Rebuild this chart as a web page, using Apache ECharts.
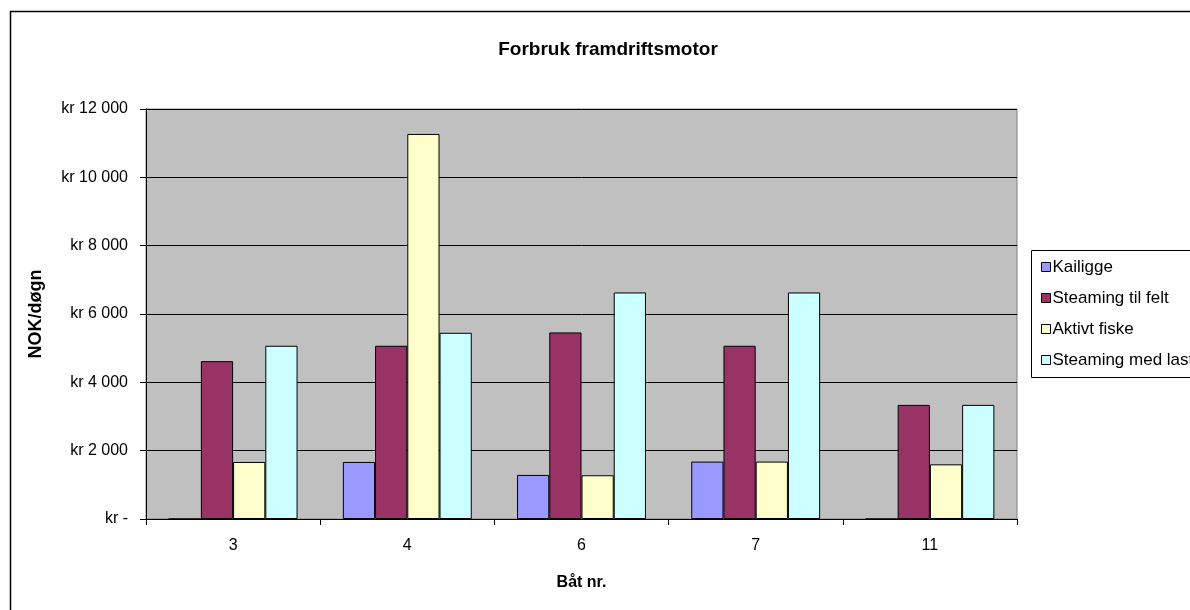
<!DOCTYPE html>
<html>
<head>
<meta charset="utf-8">
<script src="https://cdn.jsdelivr.net/npm/echarts@6/dist/echarts.min.js"></script>
<style>
html,body{margin:0;padding:0;background:#fff;}
#chart{width:1190px;height:610px;}
</style>
</head>
<body>
<div id="chart"></div>
<script>
const categories = ['3', '4', '6', '7', '11'];
const seriesNames = ['Kailigge', 'Steaming til felt', 'Aktivt fiske', 'Steaming med last'];
const kailigge = [0, 1670, 1290, 1680, 0];
const steamingTilFelt = [4620, 5070, 5460, 5070, 3340];
const aktivtFiske = [1670, 11270, 1280, 1680, 1600];
const steamingMedLast = [5070, 5450, 6630, 6630, 3340];
const yTicks = [0, 2000, 4000, 6000, 8000, 10000, 12000];
const yTickLabels = ['kr -', 'kr 2 000', 'kr 4 000', 'kr 6 000', 'kr 8 000', 'kr 10 000', 'kr 12 000'];
const colors = ['#9999FF', '#993366', '#FFFFCC', '#CCFFFF'];

const seriesData = [kailigge, steamingTilFelt, aktivtFiske, steamingMedLast];
const font = 'Liberation Sans, Arial, sans-serif';

const chart = echarts.init(document.getElementById('chart'));
chart.setOption({
  animation: false,
  textStyle: {fontFamily: font},
  title: {
    text: 'Forbruk framdriftsmotor',
    left: 603,
    textAlign: 'center',
    top: 35,
    textStyle: {fontFamily: font, fontSize: 19, fontWeight: 'bold', color: '#000'}
  },
  graphic: [
    {type: 'rect', left: 8, top: 9, shape: {width: 1250, height: 700}, style: {fill: 'none', stroke: '#000', lineWidth: 1.5}, z: -10},
    {type: 'rect', left: 1031, top: 250, shape: {width: 200, height: 127}, style: {fill: '#fff', stroke: '#000', lineWidth: 1}, z: 0}
  ],
  legend: {
    orient: 'vertical',
    left: 1036,
    top: 253,
    itemWidth: 9,
    itemHeight: 9,
    itemGap: 13,
    icon: 'rect',
    z: 5,
    data: seriesNames.map((n) => ({name: n, itemStyle: {borderColor: '#000', borderWidth: 1}})),
    textStyle: {fontFamily: font, fontSize: 17, color: '#000', lineHeight: 18, padding: [0, 0, 0, -3]}
  },
  grid: {
    left: 146, top: 109, width: 871, height: 410,
    show: true, backgroundColor: '#C0C0C0', borderColor: '#808080', borderWidth: 1
  },
  xAxis: {
    type: 'category',
    data: categories,
    name: 'Båt nr.',
    nameLocation: 'middle',
    nameGap: 56,
    nameTextStyle: {fontFamily: font, fontSize: 16, fontWeight: 'bold', color: '#000'},
    axisLine: {lineStyle: {color: '#000', width: 1}},
    axisTick: {show: true, length: 6, lineStyle: {color: '#000'}},
    axisLabel: {fontFamily: font, fontSize: 16, color: '#000', margin: 19}
  },
  yAxis: {
    type: 'value',
    min: 0, max: 12000, interval: 2000,
    name: 'NOK/døgn',
    nameLocation: 'middle',
    nameGap: 101,
    nameRotate: 90,
    nameTextStyle: {fontFamily: font, fontSize: 18, fontWeight: 'bold', color: '#000'},
    axisLine: {show: true, lineStyle: {color: '#000', width: 1}},
    axisTick: {show: true, length: 6, lineStyle: {color: '#000'}},
    axisLabel: {
      fontFamily: font, fontSize: 16, color: '#000', margin: 18,
      formatter: (v) => { const i = yTicks.indexOf(v); return i >= 0 ? yTickLabels[i] : ''; }
    },
    splitLine: {lineStyle: {color: '#000', width: 1}}
  },
  series: seriesNames.map((n, i) => ({
    name: n,
    type: 'bar',
    data: seriesData[i],
    barGap: '0%',
    barCategoryGap: '26%',
    itemStyle: {color: colors[i], borderColor: '#000', borderWidth: 1}
  }))
});
</script>
</body>
</html>
